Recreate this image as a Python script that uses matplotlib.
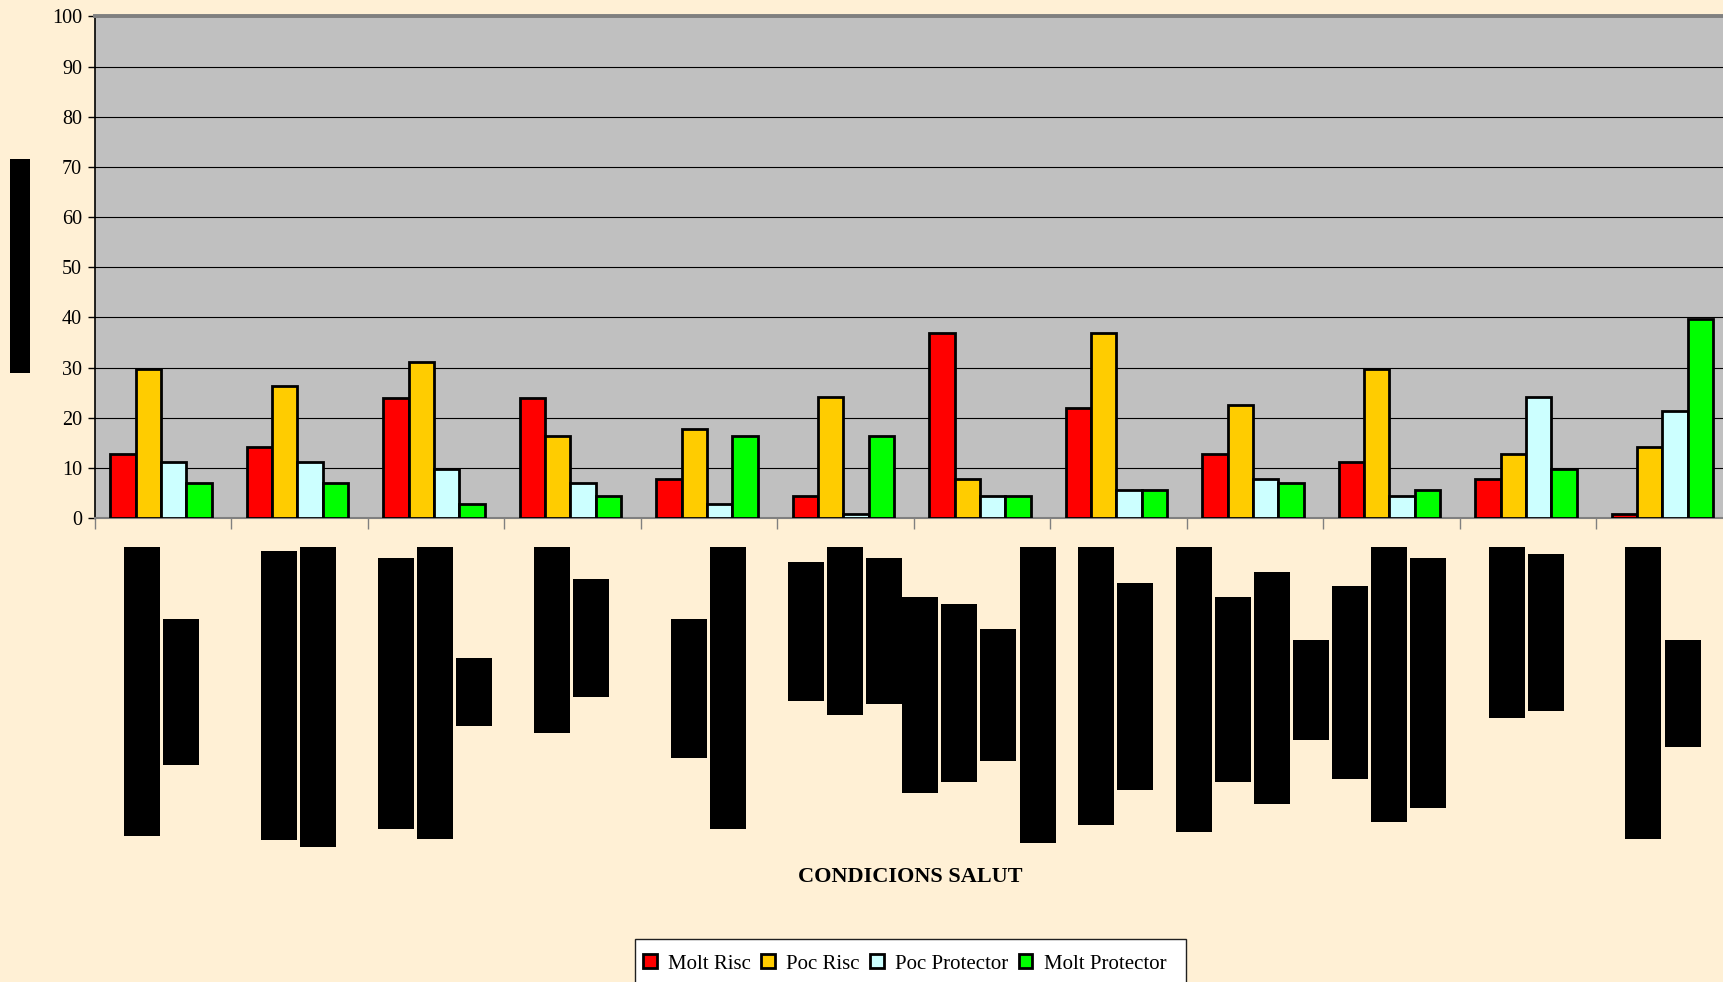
import matplotlib
matplotlib.use("Agg")
import matplotlib.pyplot as plt
from matplotlib.patches import Rectangle
import numpy as np

# ---------------- data ----------------
n_groups = 12
series_names = ["Molt Risc", "Poc Risc", "Poc Protector", "Molt Protector"]
molt_risc      = [12.7, 14.1, 24.0, 24.0,  7.8,  4.3, 36.9, 21.9, 12.7, 11.2,  7.8,  0.7]
poc_risc       = [29.7, 26.3, 31.2, 16.3, 17.7, 24.2,  7.8, 36.9, 22.6, 29.7, 12.7, 14.1]
poc_protector  = [11.2, 11.2,  9.8,  7.0,  2.7,  0.7,  4.3,  5.6,  7.8,  4.3, 24.2, 21.3]
molt_protector = [ 7.0,  7.0,  2.7,  4.3, 16.3, 16.3,  4.3,  5.6,  7.0,  5.6,  9.8, 39.7]
y_ticks = list(range(0, 101, 10))
x_title = "CONDICIONS SALUT"

# ---------------- style ----------------
W, H = 1723, 982
BG = "#FFF0D5"
colors = ["#FF0000", "#FFCC00", "#CCFFFF", "#00FF00"]
serif = ["Liberation Serif", "DejaVu Serif"]

# redacted (blacked-out) label areas, pixel boxes (x0, x1, y0, y1) from top-left
redactions = [
    (10, 30, 159, 373),
    (124, 160, 547, 836), (163, 199, 619, 765),
    (261, 297, 551, 840), (300, 336, 547, 847),
    (378, 414, 558, 829), (417, 453, 547, 839), (456, 492, 658, 726),
    (534, 570, 547, 733), (573, 609, 579, 697),
    (671, 707, 619, 758), (710, 746, 547, 829),
    (788, 824, 562, 701), (827, 863, 547, 715), (866, 902, 558, 704),
    (902, 938, 597, 793), (941, 977, 604, 782), (980, 1016, 629, 761),
    (1020, 1056, 547, 843),
    (1078, 1114, 547, 825), (1117, 1153, 583, 790),
    (1176, 1212, 547, 832), (1215, 1251, 597, 782), (1254, 1290, 572, 804),
    (1293, 1329, 640, 740), (1332, 1368, 586, 779), (1371, 1407, 547, 822),
    (1410, 1446, 558, 808),
    (1489, 1525, 547, 718), (1528, 1564, 554, 711),
    (1625, 1661, 547, 839), (1665, 1701, 640, 747),
]

fig = plt.figure(figsize=(W / 100, H / 100), dpi=100, facecolor=BG)

ax_left, ax_right = 94.5, 94.5 + 12 * 136.5
ax_top, ax_bot = 16.5, 518
ax = fig.add_axes([ax_left / W, (H - ax_bot) / H,
                   (ax_right - ax_left) / W, (ax_bot - ax_top) / H])
ax.set_facecolor("#C0C0C0")

x = np.arange(n_groups)
bw = 0.186
shift = -0.013
all_series = [molt_risc, poc_risc, poc_protector, molt_protector]
handles = []
for k, (vals, c, name) in enumerate(zip(all_series, colors, series_names)):
    b = ax.bar(x + shift + (k - 1.5) * bw, vals, width=bw, color=c,
               edgecolor="black", linewidth=2.0, label=name, zorder=3)
    handles.append(b)

ax.set_xlim(-0.5, n_groups - 0.5)
ax.set_ylim(0, 100)
ax.set_yticks(y_ticks)
ax.set_yticklabels([str(t) for t in y_ticks], family=serif, fontsize=14.5)
ax.set_xticks(np.arange(-0.5, n_groups, 1.0))
ax.set_xticklabels([])
ax.tick_params(axis="y", direction="out", length=5, width=1, color="black", pad=4)
ax.tick_params(axis="x", direction="out", length=8, width=1, color="#808080")

ax.yaxis.grid(True, color="black", linewidth=0.8, zorder=0)
ax.set_axisbelow(True)
ax.spines["top"].set_color("#808080")
ax.spines["top"].set_linewidth(2.8)
ax.spines["right"].set_visible(False)
ax.spines["left"].set_color("black")
ax.spines["left"].set_linewidth(1.2)
ax.spines["bottom"].set_color("#808080")
ax.spines["bottom"].set_linewidth(1.5)

fig.text(910 / W, 1 - 877 / H, x_title, ha="center", va="center",
         family=serif, fontweight="bold", fontsize=16)

for (x0, x1, y0, y1) in redactions:
    fig.patches.append(Rectangle((x0 / W, 1 - y1 / H), (x1 - x0) / W, (y1 - y0) / H,
                                 transform=fig.transFigure, facecolor="black",
                                 edgecolor="none", zorder=5))

# legend frame (runs off the bottom edge of the figure, as in the original)
fig.patches.append(Rectangle((635 / W, -0.05), (1185.5 - 635) / W, 1 - 939 / H + 0.05,
                             transform=fig.transFigure, facecolor="white",
                             edgecolor="#202020", linewidth=1.0, zorder=4))

leg = fig.legend(handles=handles, labels=series_names, loc="center left",
                 bbox_to_anchor=(643 / W, 1 - 964 / H), ncol=4,
                 prop={"family": serif, "size": 15}, frameon=False,
                 handlelength=0.65, handleheight=0.65,
                 handletextpad=0.55, columnspacing=0.5, borderpad=0,
                 borderaxespad=0)
leg.set_zorder(6)

fig.savefig("out.png", dpi=100, facecolor=BG)
